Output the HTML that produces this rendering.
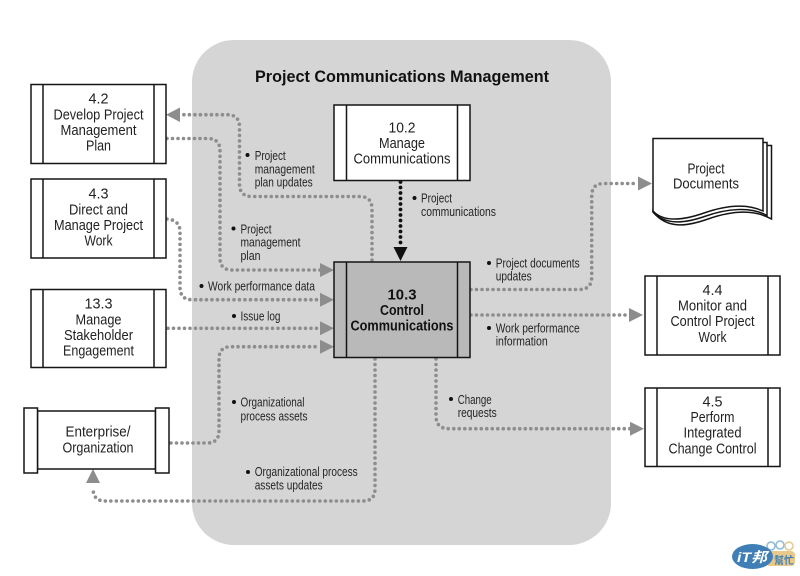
<!DOCTYPE html>
<html>
<head>
<meta charset="utf-8">
<style>
html,body{margin:0;padding:0;background:#fff;width:800px;height:576px;overflow:hidden}
svg{display:block;filter:blur(0.35px)}
text{font-family:"Liberation Sans",sans-serif;fill:#222}
.b text{font-size:14.5px;text-anchor:middle}
.l text{font-size:13px;fill:#252525}
.d{fill:none;stroke:#8d8d8d;stroke-width:3.6;stroke-linecap:round;stroke-dasharray:0 5.5}
.a{fill:#8d8d8d}
.n{fill:#fff;stroke:#151515;stroke-width:1.5}
.s{stroke:#151515;stroke-width:1.5;fill:none}
</style>
</head>
<body>
<svg width="800" height="576" viewBox="0 0 800 576" xmlns="http://www.w3.org/2000/svg">
<rect width="800" height="576" fill="#fff"/>
<rect x="192" y="40" width="419" height="505" rx="42" fill="#d5d5d5"/>
<text x="402" y="82" text-anchor="middle" font-size="16.5" font-weight="700" textLength="294" lengthAdjust="spacingAndGlyphs" style="fill:#111">Project Communications Management</text>

<!-- connectors -->
<path class="d" d="M372 260V209Q372 196.500 360 196.500H252Q239.500 196.500 239.500 184V127Q239.500 114.700 227 114.700H181"/>
<polygon class="a" points="166,114.700 180,107.500 180,122"/>
<path class="d" d="M167 138.500H208Q220 138.500 220 151V258Q220 270 232 270H320"/>
<polygon class="a" points="334,270 320,263 320,277"/>
<path class="d" d="M167 219Q180 220 180 232V287Q180 299.700 192 299.700H320"/>
<polygon class="a" points="334,299.700 320,292.700 320,306.700"/>
<path class="d" d="M168 328.300H320"/>
<polygon class="a" points="334,328.300 320,321.300 320,335.300"/>
<path class="d" d="M171 443H207Q219 443 219 431V359Q219 346.700 231 346.700H320"/>
<polygon class="a" points="334,346.700 320,339.700 320,353.700"/>
<path class="d" d="M375 359V489Q375 501 363 501H105Q93 501 93 488"/>
<polygon class="a" points="93,469 86,483 100,483"/>
<path class="d" d="M471 289.500H579Q591.700 289.500 591.700 277V196Q591.700 183.500 604 183.500H637"/>
<polygon class="a" points="652,183.500 638,176.500 638,190.500"/>
<path class="d" d="M471 315H629"/>
<polygon class="a" points="643,315 629,308 629,322"/>
<path class="d" d="M436 359V416Q436 428.700 449 428.700H630"/>
<polygon class="a" points="644,428.700 630,421.700 630,435.700"/>
<path d="M400.500 182V247" fill="none" stroke="#111" stroke-width="3.8" stroke-linecap="round" stroke-dasharray="0 5.500"/>
<polygon points="400.500,261 393.500,247 407.500,247" fill="#111"/>

<!-- boxes -->
<g>
<rect class="n" x="31" y="84.500" width="135" height="79"/><path class="s" d="M43 84.500V163.500M154 84.500V163.500"/>
<rect class="n" x="31" y="179" width="135" height="79"/><path class="s" d="M43 179V258M154 179V258"/>
<rect class="n" x="31" y="289.500" width="135" height="78"/><path class="s" d="M43 289.500V367.500M154 289.500V367.500"/>
<rect class="n" x="37.500" y="411" width="118" height="58"/>
<rect class="n" x="24" y="408" width="13.500" height="65"/>
<rect class="n" x="155.500" y="408" width="13.500" height="65"/>
<rect class="n" x="334" y="105" width="136" height="75.500"/><path class="s" d="M346.500 105V180.500M457.500 105V180.500"/>
<rect x="334" y="262" width="136" height="95.500" fill="#b9b9b9" stroke="#151515" stroke-width="1.500"/><path class="s" d="M346.500 262V357.500M457.500 262V357.500"/>
<rect class="n" x="645" y="276" width="135" height="79"/><path class="s" d="M657 276V355M768 276V355"/>
<rect class="n" x="645" y="388" width="135" height="78.500"/><path class="s" d="M657 388V466.500M768 388V466.500"/>
<!-- documents -->
<path class="n" d="M659 145.500H771.500V219C752 208 728 212 708 219C688 226 668 230 653 212Z"/>
<path class="n" d="M656 142.500H767V215.500C750 206 726 209 706 216C686 223 666 226 653 212Z"/>
<path class="n" d="M653 138.500H763V211C746 203 724 206 704 213C684 220 664 223 653 211Z"/>
</g>

<!-- box text -->
<g class="b">
<text x="98.500" y="103.700" textLength="20" lengthAdjust="spacingAndGlyphs">4.2</text>
<text x="98.500" y="119.300" textLength="90" lengthAdjust="spacingAndGlyphs">Develop Project</text>
<text x="98.500" y="135" textLength="76" lengthAdjust="spacingAndGlyphs">Management</text>
<text x="98.500" y="150.300" textLength="25" lengthAdjust="spacingAndGlyphs">Plan</text>

<text x="98.500" y="198.700" textLength="20" lengthAdjust="spacingAndGlyphs">4.3</text>
<text x="98.500" y="214.300" textLength="59" lengthAdjust="spacingAndGlyphs">Direct and</text>
<text x="98.500" y="230" textLength="89" lengthAdjust="spacingAndGlyphs">Manage Project</text>
<text x="98.500" y="245.700" textLength="28" lengthAdjust="spacingAndGlyphs">Work</text>

<text x="98.500" y="308.700" textLength="28" lengthAdjust="spacingAndGlyphs">13.3</text>
<text x="98.500" y="324.300" textLength="46" lengthAdjust="spacingAndGlyphs">Manage</text>
<text x="98.500" y="340" textLength="69" lengthAdjust="spacingAndGlyphs">Stakeholder</text>
<text x="98.500" y="355.700" textLength="71" lengthAdjust="spacingAndGlyphs">Engagement</text>

<text x="98" y="436.700" textLength="65" lengthAdjust="spacingAndGlyphs">Enterprise/</text>
<text x="98" y="452.300" textLength="71" lengthAdjust="spacingAndGlyphs">Organization</text>

<text x="402" y="132.300" textLength="27" lengthAdjust="spacingAndGlyphs">10.2</text>
<text x="402" y="148" textLength="46" lengthAdjust="spacingAndGlyphs">Manage</text>
<text x="402" y="163.700" textLength="97" lengthAdjust="spacingAndGlyphs">Communications</text>

<text x="402" y="299.300" font-weight="700" textLength="29" lengthAdjust="spacingAndGlyphs" style="fill:#111">10.3</text>
<text x="402" y="315" font-weight="700" textLength="44" lengthAdjust="spacingAndGlyphs" style="fill:#111">Control</text>
<text x="402" y="330.700" font-weight="700" textLength="103" lengthAdjust="spacingAndGlyphs" style="fill:#111">Communications</text>

<text x="706" y="173.300" textLength="37" lengthAdjust="spacingAndGlyphs">Project</text>
<text x="706" y="188.700" textLength="66" lengthAdjust="spacingAndGlyphs">Documents</text>

<text x="712.500" y="295" textLength="20" lengthAdjust="spacingAndGlyphs">4.4</text>
<text x="712.500" y="310.300" textLength="69" lengthAdjust="spacingAndGlyphs">Monitor and</text>
<text x="712.500" y="326" textLength="84" lengthAdjust="spacingAndGlyphs">Control Project</text>
<text x="712.500" y="342" textLength="28" lengthAdjust="spacingAndGlyphs">Work</text>

<text x="712.500" y="406.300" textLength="20" lengthAdjust="spacingAndGlyphs">4.5</text>
<text x="712.500" y="422" textLength="44" lengthAdjust="spacingAndGlyphs">Perform</text>
<text x="712.500" y="437.700" textLength="58" lengthAdjust="spacingAndGlyphs">Integrated</text>
<text x="712.500" y="453.300" textLength="88" lengthAdjust="spacingAndGlyphs">Change Control</text>
</g>

<!-- labels -->
<g class="l">
<circle cx="247.500" cy="155" r="2" fill="#111"/>
<text x="254.700" y="160" textLength="31" lengthAdjust="spacingAndGlyphs">Project</text>
<text x="254.700" y="173.300" textLength="60" lengthAdjust="spacingAndGlyphs">management</text>
<text x="254.700" y="186.700" textLength="58" lengthAdjust="spacingAndGlyphs">plan updates</text>

<circle cx="233.500" cy="228.500" r="2" fill="#111"/>
<text x="240.500" y="233.300" textLength="31" lengthAdjust="spacingAndGlyphs">Project</text>
<text x="240.500" y="246.700" textLength="60" lengthAdjust="spacingAndGlyphs">management</text>
<text x="240.500" y="260" textLength="20" lengthAdjust="spacingAndGlyphs">plan</text>

<circle cx="201.500" cy="286" r="2" fill="#111"/>
<text x="208" y="290.700" textLength="107" lengthAdjust="spacingAndGlyphs">Work performance data</text>

<circle cx="234" cy="316" r="2" fill="#111"/>
<text x="240.500" y="320.700" textLength="40" lengthAdjust="spacingAndGlyphs">Issue log</text>

<circle cx="234" cy="402" r="2" fill="#111"/>
<text x="240.500" y="406.700" textLength="64" lengthAdjust="spacingAndGlyphs">Organizational</text>
<text x="240.500" y="420.300" textLength="67" lengthAdjust="spacingAndGlyphs">process assets</text>

<circle cx="248" cy="472" r="2" fill="#111"/>
<text x="254.700" y="476" textLength="103" lengthAdjust="spacingAndGlyphs">Organizational process</text>
<text x="254.700" y="489.300" textLength="68" lengthAdjust="spacingAndGlyphs">assets updates</text>

<circle cx="414.500" cy="198" r="2" fill="#111"/>
<text x="421" y="202.700" textLength="31" lengthAdjust="spacingAndGlyphs">Project</text>
<text x="421" y="216" textLength="75" lengthAdjust="spacingAndGlyphs">communications</text>

<circle cx="489" cy="263" r="2" fill="#111"/>
<text x="495.700" y="267.300" textLength="84" lengthAdjust="spacingAndGlyphs">Project documents</text>
<text x="495.700" y="280.700" textLength="36" lengthAdjust="spacingAndGlyphs">updates</text>

<circle cx="489" cy="328" r="2" fill="#111"/>
<text x="495.700" y="332.300" textLength="84" lengthAdjust="spacingAndGlyphs">Work performance</text>
<text x="495.700" y="345.700" textLength="52" lengthAdjust="spacingAndGlyphs">information</text>

<circle cx="451" cy="399" r="2" fill="#111"/>
<text x="457.700" y="404" textLength="34" lengthAdjust="spacingAndGlyphs">Change</text>
<text x="457.700" y="417" textLength="39" lengthAdjust="spacingAndGlyphs">requests</text>
</g>

<!-- watermark -->
<g>
<circle cx="771" cy="546" r="4" fill="#fff" stroke="#8fb9d8" stroke-width="1.500"/>
<circle cx="780" cy="545" r="4" fill="#fff" stroke="#8fb9d8" stroke-width="1.500"/>
<circle cx="789" cy="546" r="4" fill="#fff" stroke="#e3c98c" stroke-width="1.500"/>
<rect x="766" y="551" width="29" height="15" rx="4" fill="#e9c98a"/>
<ellipse cx="752.500" cy="556.500" rx="20.500" ry="12.500" fill="#3f7fb5"/>
<text x="752" y="562" text-anchor="middle" font-size="14" font-weight="700" font-style="italic" textLength="30" lengthAdjust="spacingAndGlyphs" style="fill:#fff;font-family:'Liberation Sans','Noto Sans CJK TC',sans-serif">iT邦</text>
<text x="784" y="564" text-anchor="middle" font-size="10" font-weight="700" style="fill:#3f7fb5;font-family:'Liberation Sans','Noto Sans CJK TC',sans-serif">幫忙</text>
</g>
</svg>
</body>
</html>
